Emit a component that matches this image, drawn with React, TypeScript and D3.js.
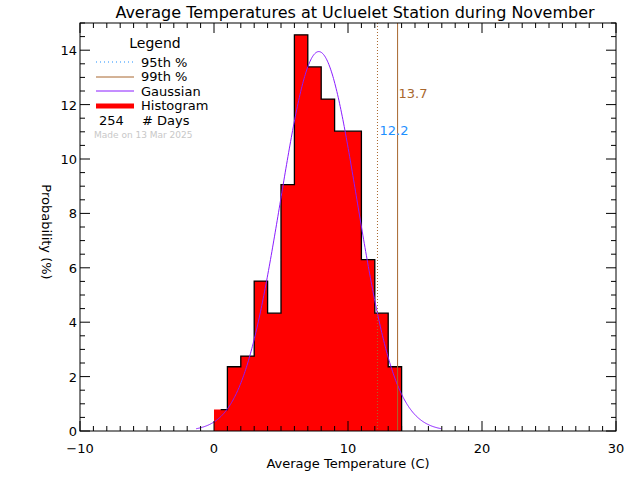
import React from "react";
import * as d3 from "d3";

// Histogram: number of days per 1-degree bin, starting at 0 C
const binEdges = [0, 1, 2, 3, 4, 5, 6, 7, 8, 9, 10, 11, 12, 13, 14];
const binDays = [2, 6, 7, 14, 11, 23, 37, 34, 31, 28, 28, 16, 11, 6];
const totalDays = 254;
// Gaussian fit parameters
const gaussMean = 7.82;
const gaussSigma = 2.86;
// Percentiles
const p95 = 12.2;
const p99 = 13.7;
const xTicks = [-10, 0, 10, 20, 30];
const yTicks = [0, 2, 4, 6, 8, 10, 12, 14];

const W = 640, H = 480;
const L = 80, R = 616, T = 23, B = 431;
const FONT = "DejaVu Sans, sans-serif";
const BLUE = "#1e90ff";
const BROWN = "#a8672e";
const PURPLE = "#8a1cff";

export default function App() {
  const x = d3.scaleLinear().domain([-10, 30]).range([L, R]);
  const y = d3.scaleLinear().domain([0, 15]).range([B, T]);
  const pct = binDays.map((d) => (d / totalDays) * 100);

  const fillPath = binDays
    .map((_, i) => {
      const x0 = x(binEdges[i]);
      const x1 = x(binEdges[i] + 1);
      return `M${x0},${y(0)}H${x1}V${y(pct[i])}H${x0}Z`;
    })
    .join("");

  let outline = `M${x(binEdges[0] + 0.5)},${y(pct[0])}H${x(binEdges[0] + 1)}`;
  for (let i = 1; i < pct.length; i++) {
    outline += `V${y(pct[i])}H${x(binEdges[i] + 1)}`;
  }
  outline += `V${y(0)}`;

  const amp = 100 / (gaussSigma * Math.sqrt(2 * Math.PI));
  const gx = d3.range(gaussMean - 3.2 * gaussSigma, gaussMean + 3.2 * gaussSigma, 0.05);
  const gauss = d3
    .line<number>()
    .x((v) => x(v))
    .y((v) => y(amp * Math.exp(-((v - gaussMean) ** 2) / (2 * gaussSigma ** 2))))(gx);

  const xMinor = d3.range(-10, 30.01, 1);
  const yMinor = d3.range(0, 15.01, 0.5);

  return (
    <svg width={W} height={H} style={{ position: "absolute", left: 0, top: 0, background: "#fff" }} fontFamily={FONT}>
      <rect x={0} y={0} width={W} height={H} fill="#fff" />
      <text x={355} y={18} fontSize={16} textAnchor="middle">
        Average Temperatures at Ucluelet Station during November
      </text>

      {/* histogram */}
      <path d={fillPath} fill="#ff0000" stroke="none" />
      <path d={outline} fill="none" stroke="#000" strokeWidth={1.3} />
      <path d={gauss || ""} fill="none" stroke={PURPLE} strokeWidth={1} />

      {/* percentile lines */}
      <line x1={x(p95)} x2={x(p95)} y1={T} y2={B} stroke={BROWN} strokeWidth={1} strokeDasharray="1,2" />
      <line x1={x(p99)} x2={x(p99)} y1={T} y2={B} stroke={BROWN} strokeWidth={1} />
      <text x={x(p95) + 2} y={135} fontSize={13} fill={BLUE}>{p95.toFixed(1)}</text>
      <text x={x(p99) + 1} y={98} fontSize={13} fill={BROWN}>{p99.toFixed(1)}</text>

      {/* axes box */}
      <rect x={L} y={T} width={R - L} height={B - T} fill="none" stroke="#000" strokeWidth={1} />
      {xMinor.map((v) => {
        const len = xTicks.includes(v) ? 10 : 5;
        return (
          <g key={"xt" + v}>
            <line x1={x(v)} x2={x(v)} y1={B} y2={B - len} stroke="#000" />
            <line x1={x(v)} x2={x(v)} y1={T} y2={T + len} stroke="#000" />
          </g>
        );
      })}
      {yMinor.map((v) => {
        const len = yTicks.includes(v) ? 10 : 5;
        return (
          <g key={"yt" + v}>
            <line x1={L} x2={L + len} y1={y(v)} y2={y(v)} stroke="#000" />
            <line x1={R} x2={R - len} y1={y(v)} y2={y(v)} stroke="#000" />
          </g>
        );
      })}
      {xTicks.map((v) => (
        <text key={"xl" + v} x={x(v)} y={453} fontSize={13} textAnchor="middle">
          {v < 0 ? "\u2212" + Math.abs(v) : v}
        </text>
      ))}
      {yTicks.map((v) => (
        <text key={"yl" + v} x={77} y={y(v) + 5} fontSize={13} textAnchor="end">
          {v}
        </text>
      ))}
      <text x={348} y={468} fontSize={13} textAnchor="middle">Average Temperature (C)</text>
      <text transform={`translate(42,232) rotate(90)`} fontSize={13} textAnchor="middle">
        Probability   (%)
      </text>

      {/* legend */}
      <text x={155} y={48} fontSize={14} textAnchor="middle">Legend</text>
      <line x1={96} x2={134} y1={62} y2={62} stroke={BLUE} strokeDasharray="1,3" />
      <text x={141} y={67} fontSize={13}>95th %</text>
      <line x1={96} x2={134} y1={77} y2={77} stroke={BROWN} />
      <text x={141} y={81} fontSize={13}>99th %</text>
      <line x1={96} x2={134} y1={91} y2={91} stroke={PURPLE} />
      <text x={141} y={96} fontSize={13}>Gaussian</text>
      <line x1={96} x2={134} y1={106} y2={106} stroke="#ff0000" strokeWidth={5} />
      <text x={141} y={110} fontSize={13}>Histogram</text>
      <text x={99} y={125} fontSize={13}>{totalDays}</text>
      <text x={142} y={125} fontSize={13}># Days</text>
      <text x={94} y={138} fontSize={9} fill="#c8c8c8">Made on 13 Mar 2025</text>
    </svg>
  );
}
